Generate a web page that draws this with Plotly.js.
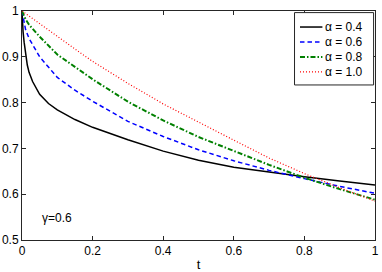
<!DOCTYPE html>
<html>
<head>
<meta charset="utf-8">
<script src="https://cdn.plot.ly/plotly-3.0.1.min.js"></script>
<style>html,body{margin:0;padding:0;background:#fff;}#chart{width:382px;height:272px;}</style>
</head>
<body>
<div id="chart"></div>
<script>
// Time samples (t) and solution values for each alpha
const tBlack = [0, 0.001, 0.003, 0.006, 0.01, 0.015, 0.02, 0.03, 0.05, 0.075, 0.1, 0.15, 0.2, 0.25, 0.3, 0.4, 0.5, 0.6, 0.7, 0.8, 0.9, 1.0];
const alpha04 = [1, 0.975, 0.955, 0.932, 0.905, 0.882, 0.866, 0.846, 0.818, 0.798, 0.784, 0.763, 0.746, 0.732, 0.719, 0.694, 0.674, 0.659, 0.648, 0.638, 0.629, 0.620];

const tBlue = [0, 0.005, 0.01, 0.02, 0.05, 0.1, 0.15, 0.2, 0.3, 0.4, 0.5, 0.6, 0.7, 0.8, 0.9, 1.0];
const alpha06 = [1, 0.975, 0.96, 0.94, 0.9, 0.855, 0.827, 0.803, 0.759, 0.726, 0.697, 0.673, 0.652, 0.634, 0.617, 0.602];

const tGreen = [0, 0.01, 0.02, 0.05, 0.1, 0.15, 0.2, 0.3, 0.4, 0.5, 0.6, 0.7, 0.8, 0.9, 1.0];
const alpha08 = [1, 0.982, 0.97, 0.944, 0.905, 0.877, 0.851, 0.802, 0.761, 0.725, 0.694, 0.664, 0.636, 0.611, 0.588];

const tRed = [0, 0.05, 0.1, 0.15, 0.2, 0.3, 0.4, 0.5, 0.6, 0.7, 0.8, 0.9, 1.0];
const alpha10 = [1, 0.972, 0.943, 0.917, 0.89, 0.842, 0.797, 0.757, 0.718, 0.679, 0.645, 0.614, 0.585];

const seriesNames = ['α = 0.4', 'α = 0.6', 'α = 0.8', 'α = 1.0'];
const xTicks = [0, 0.2, 0.4, 0.6, 0.8, 1];
const xTickText = ['0', '0.2', '0.4', '0.6', '0.8', '1'];
const yTicks = [0.5, 0.6, 0.7, 0.8, 0.9, 1];
const yTickText = ['0.5', '0.6', '0.7', '0.8', '0.9', '1'];
const note = 'γ=0.6';

const FONT = 'Liberation Sans, Arial, sans-serif';
const styles = [
  {color: '#000000', width: 1.5, dash: 'solid'},
  {color: '#0000ff', width: 1.5, dash: '4.5px,3px'},
  {color: '#008000', width: 2, dash: '5px,2px,1.5px,2px'},
  {color: '#ff0000', width: 1.2, dash: '1px,2px'}
];
const xs = [tBlack, tBlue, tGreen, tRed];
const ys = [alpha04, alpha06, alpha08, alpha10];

const traces = xs.map((x, i) => ({
  x: x, y: ys[i], name: seriesNames[i], mode: 'lines', line: styles[i], showlegend: false
}));

// Legend built from the series names / styles (paper coordinates of the plot area)
const legBox = {x0: 0.772, x1: 0.996, y0: 0.677, y1: 0.993};
const legRows = [0.930, 0.865, 0.799, 0.734];
const shapes = [{
  type: 'rect', xref: 'paper', yref: 'paper', x0: legBox.x0, x1: legBox.x1, y0: legBox.y0, y1: legBox.y1,
  line: {color: '#262626', width: 1}, fillcolor: '#ffffff', layer: 'above'
}];
const annotations = [
  {x: 0.05, y: 0.548, xref: 'x', yref: 'y', text: note, showarrow: false, xanchor: 'left',
   font: {size: 12, family: FONT, color: '#000'}}
];
seriesNames.forEach((n, i) => {
  shapes.push({type: 'line', xref: 'paper', yref: 'paper', x0: 0.7875, x1: 0.851, y0: legRows[i], y1: legRows[i],
    line: styles[i], layer: 'above'});
  annotations.push({x: 0.853, y: legRows[i], xref: 'paper', yref: 'paper', text: n, showarrow: false,
    xanchor: 'left', yanchor: 'middle', font: {size: 12, family: FONT, color: '#000'}});
});

const axisCommon = {
  showgrid: false, zeroline: false, showline: true, mirror: 'ticks',
  linecolor: '#262626', linewidth: 1, ticks: 'inside', ticklen: 4, tickcolor: '#262626',
  tickfont: {family: FONT, size: 12, color: '#000'}
};

const layout = {
  width: 382, height: 272,
  margin: {l: 22, r: 7, t: 11, b: 32},
  paper_bgcolor: '#fff', plot_bgcolor: '#fff',
  showlegend: false,
  font: {family: FONT, size: 12, color: '#000'},
  xaxis: Object.assign({}, axisCommon, {
    range: [0, 1], tickvals: xTicks, ticktext: xTickText,
    title: {text: 't', standoff: 3, font: {size: 13, family: FONT}}
  }),
  yaxis: Object.assign({}, axisCommon, {
    range: [0.5, 1], tickvals: yTicks, ticktext: yTickText
  }),
  shapes: shapes,
  annotations: annotations
};

Plotly.newPlot('chart', traces, layout, {displayModeBar: false, staticPlot: true});
</script>
</body>
</html>
